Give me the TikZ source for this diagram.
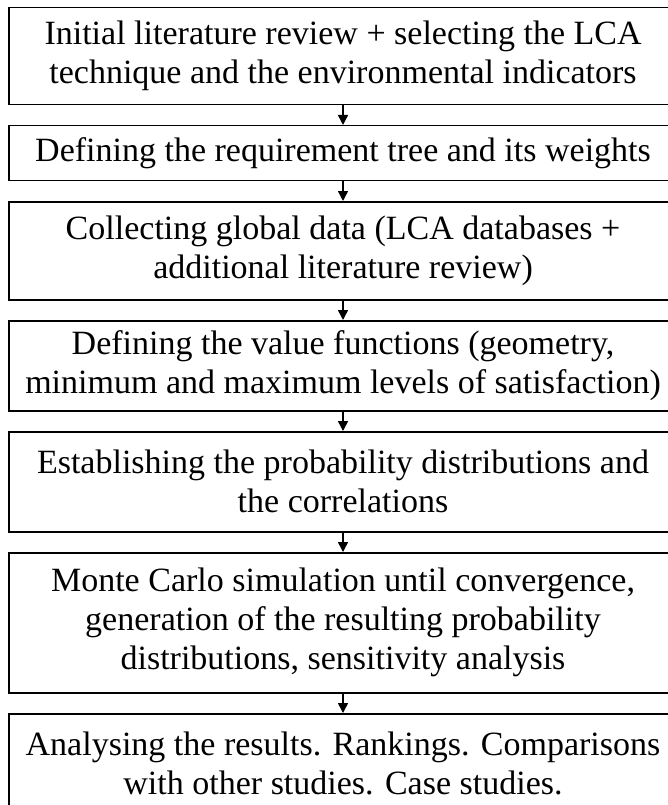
\documentclass[tikz,border=0pt]{standalone}
\usepackage{fontspec}
\setmainfont{Liberation Serif}
\usepackage{tikz}
\usetikzlibrary{arrows.meta}

\begin{document}
\begin{tikzpicture}[x=1pt, y=1pt, every node/.style={draw=black, line width=1.5pt, rectangle, align=center, minimum width=668pt, anchor=north, inner sep=0pt, font=\fontsize{34}{39}\selectfont}] % one unit is one pixel of the page
        % Fix the page size
        \useasboundingbox (0,0) rectangle (667,-805);

        % Draw the boxes of the work flow, top to bottom
        \node[minimum height=97pt] (LitReview) at (343,-7) {Initial literature review + selecting the LCA\\technique and the environmental indicators};
        \node[minimum height=55pt] (ReqTree) at (343,-125) {Defining the requirement tree and its weights};
        \node[minimum height=98pt] (GlobalData) at (343,-201) {Collecting global data (LCA databases +\\additional literature review)};
        \node[minimum height=90pt] (ValueFunc) at (343,-320) {Defining the value functions (geometry,\\minimum and maximum levels of satisfaction)};
        \node[minimum height=100pt] (ProbDist) at (343,-431) {Establishing the probability distributions and\\the correlations};
        \node[minimum height=140pt] (MonteCarlo) at (343,-552) {Monte Carlo simulation until convergence,\\generation of the resulting probability\\distributions, sensitivity analysis};
        \node[minimum height=100pt] (Results) at (343,-713) {Analysing the results. Rankings. Comparisons\\with other studies. Case studies.};

        % Draw the arrows between the boxes
        \draw[-{Triangle[length=10pt,width=10pt]},line width=1.5pt] (LitReview) -- (ReqTree);
        \draw[-{Triangle[length=10pt,width=10pt]},line width=1.5pt] (ReqTree) -- (GlobalData);
        \draw[-{Triangle[length=10pt,width=10pt]},line width=1.5pt] (GlobalData) -- (ValueFunc);
        \draw[-{Triangle[length=10pt,width=10pt]},line width=1.5pt] (ValueFunc) -- (ProbDist);
        \draw[-{Triangle[length=10pt,width=10pt]},line width=1.5pt] (ProbDist) -- (MonteCarlo);
        \draw[-{Triangle[length=10pt,width=10pt]},line width=1.5pt] (MonteCarlo) -- (Results);

    \end{tikzpicture}
\end{document}
